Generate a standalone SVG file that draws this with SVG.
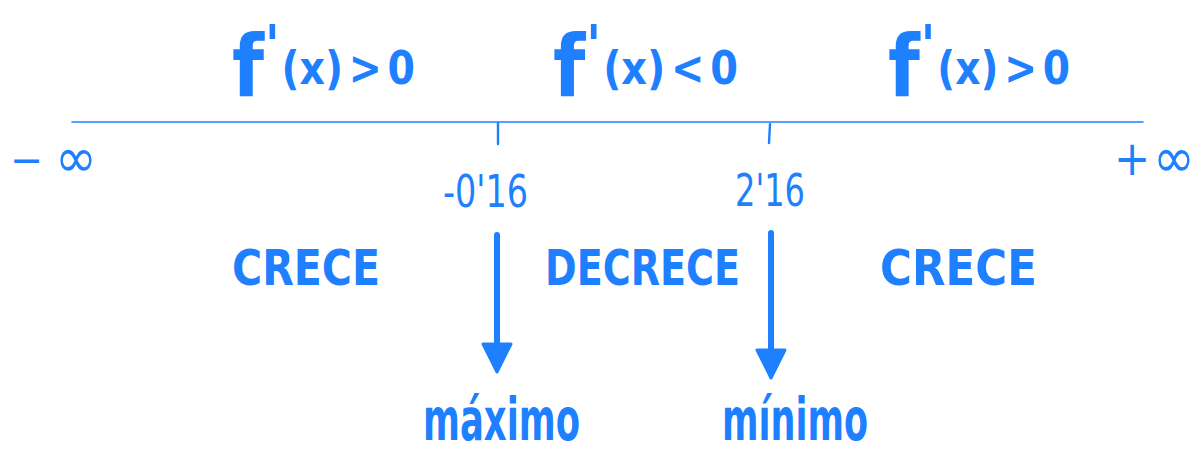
<svg xmlns="http://www.w3.org/2000/svg" width="1203" height="452" viewBox="0 0 1203 452">
<style>
.t{fill:#1E80FF;font-family:"Liberation Sans Narrow","DejaVu Sans Condensed","Liberation Sans",sans-serif;font-weight:bold;}
.n{font-weight:normal;}
.ln{stroke:#1E80FF;fill:none;stroke-linecap:round;}
</style>
<defs>
<marker id="ah" markerUnits="userSpaceOnUse" markerWidth="34" markerHeight="34" refX="4" refY="16" orient="auto" viewBox="0 0 34 32">
<path d="M2,2 L30,16 L2,30 Z" fill="#1E80FF" stroke="#1E80FF" stroke-width="3" stroke-linejoin="round"/>
</marker>
</defs>
<rect width="1203" height="452" fill="#fff"/>
<g id="axis">
<line class="ln" x1="72" y1="122" x2="1143" y2="122" stroke-width="1.6"/>
<line class="ln" x1="498" y1="123" x2="498" y2="144" stroke-width="2.4"/>
<line class="ln" x1="770" y1="124" x2="769" y2="143" stroke-width="2.4"/>
</g>
<g id="labels-top">
<text class="t" x="232" y="84" font-size="46" textLength="183" lengthAdjust="spacingAndGlyphs"><tspan font-size="86" dy="12">f</tspan><tspan font-size="56" dx="1" dy="-32">'</tspan><tspan dx="2" dy="20">(x)</tspan><tspan dx="6">&gt;</tspan><tspan dx="6">0</tspan></text>
<text class="t" x="553" y="84" font-size="46" textLength="185" lengthAdjust="spacingAndGlyphs"><tspan font-size="86" dy="12">f</tspan><tspan font-size="56" dx="1" dy="-32">'</tspan><tspan dx="2" dy="20">(x)</tspan><tspan dx="6">&lt;</tspan><tspan dx="6">0</tspan></text>
<text class="t" x="888" y="84" font-size="46" textLength="182" lengthAdjust="spacingAndGlyphs"><tspan font-size="86" dy="12">f</tspan><tspan font-size="56" dx="1" dy="-32">'</tspan><tspan dx="2" dy="20">(x)</tspan><tspan dx="6">&gt;</tspan><tspan dx="6">0</tspan></text>
</g>
<g id="infinities">
<text class="t n" x="10" y="175" font-size="44">−</text>
<text class="t n" x="55" y="177" font-size="56">∞</text>
<text class="t n" x="1114" y="175" font-size="48">+</text>
<text class="t n" x="1153" y="177" font-size="56">∞</text>
</g>
<g id="points">
<text class="t n" x="443" y="207" font-size="44" textLength="85" lengthAdjust="spacingAndGlyphs">-0'16</text>
<text class="t n" x="735" y="206" font-size="44" textLength="70" lengthAdjust="spacingAndGlyphs">2'16</text>
</g>
<g id="intervals">
<text class="t" x="232" y="285" font-size="50" textLength="148" lengthAdjust="spacingAndGlyphs">CRECE</text>
<text class="t" x="545" y="285" font-size="50" textLength="195" lengthAdjust="spacingAndGlyphs">DECRECE</text>
<text class="t" x="880" y="285" font-size="50" textLength="157" lengthAdjust="spacingAndGlyphs">CRECE</text>
</g>
<g id="connectors">
<line class="ln" x1="497" y1="235" x2="497" y2="346" stroke-width="6" marker-end="url(#ah)"/>
<line class="ln" x1="771" y1="233" x2="771" y2="352" stroke-width="6" marker-end="url(#ah)"/>
</g>
<g id="extrema">
<text class="t" x="423" y="440" font-size="58" textLength="157" lengthAdjust="spacingAndGlyphs">máximo</text>
<text class="t" x="722" y="440" font-size="58" textLength="146" lengthAdjust="spacingAndGlyphs">mínimo</text>
</g>
</svg>
